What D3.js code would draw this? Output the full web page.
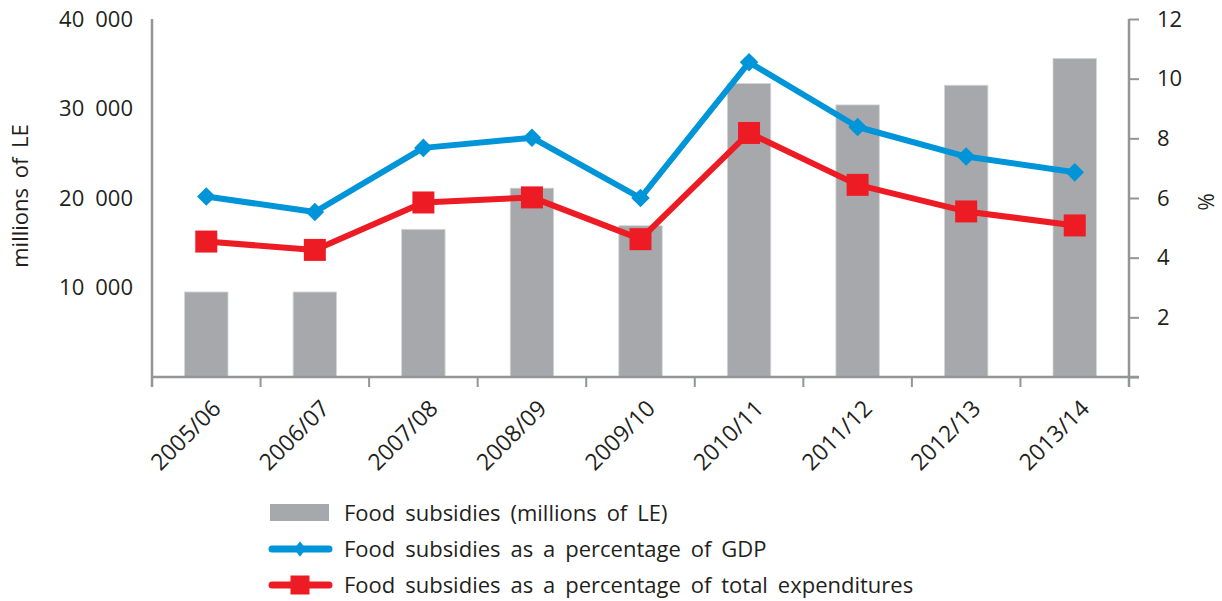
<!DOCTYPE html>
<html>
<head>
<meta charset="utf-8">
<script src="https://cdn.jsdelivr.net/npm/d3@7"></script>
<style>
  html, body { margin: 0; padding: 0; background: #fff; }
  svg { display: block; font-family: "Open Sans", "Noto Sans", sans-serif; }
  text { fill: #231f20; }
</style>
</head>
<body>
<svg id="chart" width="1222" height="601"></svg>
<script>
// Fiscal years
const categories = ["2005/06", "2006/07", "2007/08", "2008/09", "2009/10",
                    "2010/11", "2011/12", "2012/13", "2013/14"];
// Food subsidies, millions of LE
const subsidies = [9500, 9500, 16500, 21100, 16900, 32800, 30400, 32600, 35600];
// Food subsidies as % of GDP
const pctGDP = [6.05, 5.53, 7.68, 8.02, 6.0, 10.55, 8.38, 7.39, 6.86];
// Food subsidies as % of total expenditures
const pctExp = [4.54, 4.26, 5.85, 6.02, 4.62, 8.18, 6.44, 5.55, 5.08];
// Axis ticks
const leftTicks = [10000, 20000, 30000, 40000];
const rightTicks = [0, 2, 4, 6, 8, 10, 12];
const legendLabels = ["Food subsidies (millions of LE)",
                      "Food subsidies as a percentage of GDP",
                      "Food subsidies as a percentage of total expenditures"];

const COLORS = { bar: "#a7a8ab", gdp: "#0095d8", exp: "#ed1c24", axis: "#939598" };

const svg = d3.select("#chart");
const plot = { left: 152, right: 1129, top: 19, bottom: 377 };

const x = d3.scaleBand().domain(categories)
  .range([plot.left, plot.right]).paddingInner(0.6).paddingOuter(0.3);
const yL = d3.scaleLinear().domain([0, 40000]).range([plot.bottom, plot.top]);
const yR = d3.scaleLinear().domain([0, 12]).range([plot.bottom, plot.top]);
const cx = c => x(c) + x.bandwidth() / 2;

// Bars
svg.append("g").selectAll("rect").data(categories).join("rect")
  .attr("x", c => x(c))
  .attr("width", x.bandwidth())
  .attr("y", (c, i) => yL(subsidies[i]))
  .attr("height", (c, i) => plot.bottom - yL(subsidies[i]))
  .attr("fill", COLORS.bar)
  .attr("stroke", "#d4d5d6").attr("stroke-width", 0.8);

// Left axis: line only, labels without ticks
const gL = svg.append("g").attr("transform", `translate(${plot.left},0)`)
  .call(d3.axisLeft(yL).tickValues(leftTicks).tickSize(0).tickPadding(19)
    .tickFormat(d => d3.format(",")(d).replace(",", "\u2002")));
gL.attr("font-family", null).attr("font-size", null);
gL.select(".domain").remove();
gL.selectAll("text").attr("font-size", 22).attr("fill", "#231f20");
svg.append("line").attr("x1", plot.left).attr("x2", plot.left)
  .attr("y1", plot.top).attr("y2", plot.bottom + 10)
  .attr("stroke", COLORS.axis).attr("stroke-width", 2.5);

// Right axis with outward ticks
const gR = svg.append("g").attr("transform", `translate(${plot.right},0)`)
  .call(d3.axisRight(yR).tickValues(rightTicks).tickSize(10).tickPadding(18)
    .tickFormat(d => d === 0 ? "" : d));
gR.attr("font-family", null).attr("font-size", null);
gR.select(".domain").remove();
gR.selectAll(".tick line").attr("stroke", COLORS.axis).attr("stroke-width", 2);
gR.selectAll("text").attr("font-size", 22).attr("fill", "#231f20");
svg.append("line").attr("x1", plot.right).attr("x2", plot.right)
  .attr("y1", plot.top).attr("y2", plot.bottom + 10)
  .attr("stroke", COLORS.axis).attr("stroke-width", 2.5);

// X axis: ticks at band boundaries
const step = x.step();
const bounds = categories.map(c => x(c) - step * x.paddingInner() / 2);
svg.append("line").attr("x1", plot.left).attr("x2", plot.right + 10)
  .attr("y1", plot.bottom).attr("y2", plot.bottom)
  .attr("stroke", COLORS.axis).attr("stroke-width", 2.5);
svg.append("g").selectAll("line").data(bounds.slice(1)).join("line")
  .attr("x1", d => d).attr("x2", d => d)
  .attr("y1", plot.bottom).attr("y2", plot.bottom + 10)
  .attr("stroke", COLORS.axis).attr("stroke-width", 2);

svg.append("g").selectAll("text").data(categories).join("text")
  .attr("transform", c => `translate(${cx(c) + 16},${plot.bottom + 33}) rotate(-45)`)
  .attr("text-anchor", "end")
  .attr("font-size", 23)
  .text(c => c);

// Axis titles
svg.append("text")
  .attr("transform", "translate(28,196) rotate(-90)")
  .attr("text-anchor", "middle").attr("font-size", 22)
  .attr("word-spacing", 4)
  .text("millions of LE");
svg.append("text")
  .attr("transform", "translate(1198,202) rotate(90)")
  .attr("text-anchor", "middle").attr("font-size", 21)
  .text("%");

// Lines
const lineGen = vals => d3.line()
  .x((d, i) => cx(categories[i]))
  .y(d => yR(d))(vals);

svg.append("path").attr("d", lineGen(pctGDP))
  .attr("fill", "none").attr("stroke", COLORS.gdp).attr("stroke-width", 6)
  .attr("stroke-linejoin", "round");
svg.append("path").attr("d", lineGen(pctExp))
  .attr("fill", "none").attr("stroke", COLORS.exp).attr("stroke-width", 6)
  .attr("stroke-linejoin", "round");

// Markers
const diamond = d3.symbol().type(d3.symbolDiamond2).size(220);
svg.append("g").selectAll("path").data(pctGDP).join("path")
  .attr("transform", (d, i) => `translate(${cx(categories[i])},${yR(d)})`)
  .attr("d", diamond())
  .attr("fill", COLORS.gdp);
svg.append("g").selectAll("rect").data(pctExp).join("rect")
  .attr("x", (d, i) => cx(categories[i]) - 11)
  .attr("y", d => yR(d) - 11)
  .attr("width", 22).attr("height", 22)
  .attr("fill", COLORS.exp);

// Legend
const legend = svg.append("g").attr("transform", "translate(270,0)");
const rowY = [513, 549, 585];
legend.append("rect").attr("x", 0).attr("y", rowY[0] - 9).attr("width", 59).attr("height", 17)
  .attr("fill", COLORS.bar);
[[COLORS.gdp, "diamond"], [COLORS.exp, "square"]].forEach(([col, kind], k) => {
  const yy = rowY[k + 1];
  legend.append("line").attr("x1", 2).attr("x2", 59).attr("y1", yy).attr("y2", yy)
    .attr("stroke", col).attr("stroke-width", 7).attr("stroke-linecap", "round");
  if (kind === "diamond") {
    legend.append("path").attr("transform", `translate(30,${yy}) scale(0.75,1)`)
      .attr("d", d3.symbol().type(d3.symbolDiamond2).size(150)()).attr("fill", col);
  } else {
    legend.append("rect").attr("x", 20.5).attr("y", yy - 9.5).attr("width", 19).attr("height", 19)
      .attr("fill", col);
  }
});
legend.selectAll("text.lbl").data(legendLabels).join("text")
  .attr("class", "lbl")
  .attr("x", 74).attr("y", (d, i) => rowY[i] + 8)
  .attr("font-size", 22)
  .attr("word-spacing", 4.2)
  .text(d => d);
</script>
</body>
</html>
